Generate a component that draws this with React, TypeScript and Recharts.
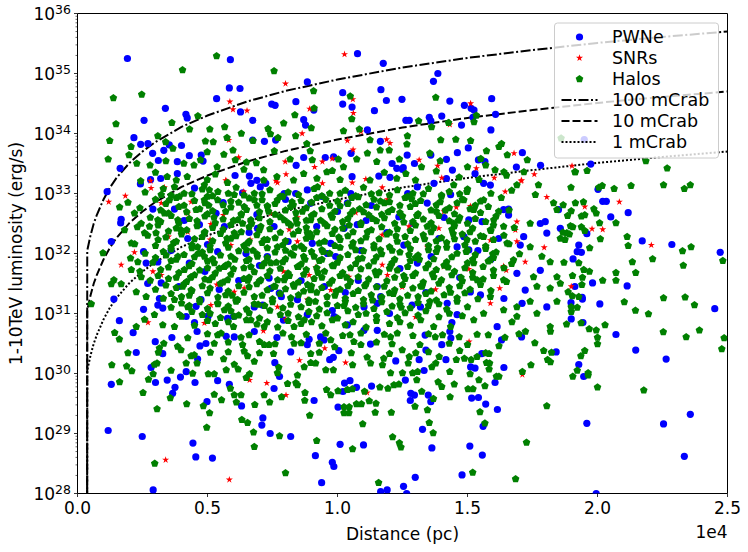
import { ComposedChart, Scatter, Line, XAxis, YAxis, ReferenceArea } from 'recharts';

type Pt = [number, number];

// distance in kpc, luminosity as log10(erg/s)
const pwneTop: Pt[] = [
  [1.92,35.25],[5.88,35.23],[10.77,35.33],[11.76,35.17],[5.84,34.76],[6.25,34.75],[8.84,34.86],[10.2,34.68],[11.67,34.73],[12.48,34.57],
  [5.35,34.58],[3.38,34.42],[7.47,34.49],[7.6,34.47],[8.4,34.53],[10.2,34.49],[10.56,34.44],[11.42,34.38],[11.88,34.55],[4.17,34.32],
  [4.22,34.26],[6.27,34.36],[6.74,34.22],[2.56,34.22],[8.7,34.23],[8.77,34.14],[9.09,34.39],[11.15,34.06],[2.17,33.93],[2.43,33.82],
  [2.71,33.83],[2.89,33.67],[3.32,33.72],[3.53,33.81],[4.0,33.8],[1.64,33.42],[3.11,33.55],[3.84,33.53],[4.3,33.63],[4.76,33.64],
  [4.83,33.54],[6.74,33.89],[7.19,33.87],[7.62,33.89],[8.41,33.47],[8.7,33.6],[9.53,33.6],[9.85,33.61],[10.52,33.67],[11.65,33.87],
  [12.1,33.5],[12.28,33.42],[12.53,33.43],[12.63,34.22],[6.06,33.3],[6.61,33.29],[2.81,33.23],[3.2,33.25],[3.84,33.33],[6.9,33.22],
  [10.56,33.28],[11.59,33.29],[12.02,33.27],
  [13.86,35.0],[13.69,34.87],[14.32,34.54],[14.88,34.47],[15.14,34.42],[15.25,34.39],[15.93,34.58],[16.08,34.32],[12.76,34.22],[13.53,34.27],
  [13.59,34.21],[14.01,34.29],[14.77,34.14],[15.21,34.27],[15.9,34.06],[15.03,33.76],[14.61,33.68],[14.19,33.57],[12.68,33.64],[12.96,33.5],
  [13.59,33.64],[14.42,33.39],[15.42,33.56],[15.67,33.53],[16.88,33.44],[17.11,33.68],[17.81,33.47],[19.74,33.49],[12.5,33.4],[14.19,33.25],
  [15.29,33.33],[19.49,33.9],
];

const pwneRight: Pt[] = [
  [20.02,33.07],[20.2,32.87],[20.34,32.87],[21.18,32.68],[20.51,32.61],[18.5,32.73],[18.57,32.42],[19.59,32.33],[21.72,32.21],[22.86,32.15],
  [24.72,32.02],[19.28,32.14],[19.22,32.03],[19.38,32.02],[19.06,31.91],[19.81,31.51],[21.14,31.46],[19.13,31.45],[19.41,31.27],[19.42,31.24],
  [18.98,31.18],[20.09,31.16],[18.99,30.91],[19.44,30.85],[24.51,31.08],[20.71,30.65],[21.47,30.39],[22.64,30.24],[19.28,30.15],[19.47,29.95],
  [19.59,29.17],[22.54,29.16],[23.57,29.32],[23.34,28.62],[19.95,28.0],
];

const pwneLow: Pt[] = [
  [2.14,30.68],[2.99,30.53],[3.63,30.6],[2.26,30.35],[3.28,30.33],[2.83,30.1],[1.3,29.82],[3.0,29.85],[3.45,29.89],[3.96,29.94],
  [4.18,30.03],[4.52,29.85],[3.75,29.77],[3.66,29.67],[4.62,30.24],[4.71,30.46],[4.94,30.5],[5.72,30.62],[6.03,30.61],[5.39,29.88],
  [5.84,29.82],[4.98,29.53],[6.31,29.46],[7.13,29.26],[7.09,29.14],[1.18,29.05],[2.49,28.95],[7.41,29.0],[8.2,28.95],[4.44,28.84],
  [4.55,28.61],[5.19,28.59],[2.91,28.06],[6.8,30.7],[7.67,30.6],[8.2,30.36],[7.59,30.18],[7.77,29.95],[7.56,29.75],[8.91,30.57],
  [8.84,30.48],[9.35,30.61],[9.48,30.56],[9.84,30.27],[9.7,30.23],[10.05,30.38],[9.1,29.55],[10.02,29.44],[10.1,28.82],[9.15,28.63],
  [9.8,28.52],[9.86,28.45],[9.39,28.18],[10.27,29.84],[10.48,29.88],[10.73,29.77],[10.21,29.7],[11.31,29.79],[11.0,28.81],[11.02,30.72],
  [11.53,30.72],[11.27,30.49],[12.24,30.21],[11.66,28.03],[11.91,28.06],
  [13.37,30.64],[14.32,30.7],[14.36,30.59],[14.01,30.48],[13.4,30.39],[13.14,30.23],[14.17,30.23],[15.55,30.33],[16.4,30.1],[15.12,30.11],
  [15.29,30.09],[13.33,30.05],[12.61,29.89],[16.06,29.85],[12.82,29.67],[12.96,29.64],[12.8,29.55],[13.49,29.64],[13.59,29.53],[15.16,29.59],
  [15.42,29.6],[15.7,29.49],[16.15,29.4],[16.31,30.56],[17.08,30.61],[18.41,30.36],[13.27,29.07],[15.6,29.12],[13.63,28.76],[15.09,28.79],
  [15.57,28.64],[12.99,28.27],[12.54,28.12],[14.79,28.31],[12.66,28.0],
];

const pwneCore: Pt[] = [
  [1.14,33.03],[1.3,32.2],[1.68,32.57],[1.66,32.51],[1.4,31.24],[1.61,30.88],[2.54,31.07],[2.54,32.03],[2.64,31.84],[2.9,32.74],
  [3.09,31.86],[2.7,31.5],[3.22,31.51],[3.28,31.09],[3.15,31.25],[2.42,33.16],[4.5,33.09],[3.73,32.74],[4.69,32.48],[4.24,32.25],
  [5.39,32.03],[5.33,32.67],[5.65,32.45],[4.75,31.23],[4.56,31.12],[4.5,30.85],[4.18,30.95],[5.03,30.96],[5.45,31.4],[6.35,33.01],
  [6.67,33.17],[7.03,33.11],[7.24,33.17],[6.92,32.42],[7.56,32.45],[7.95,33.0],[8.39,33.0],[8.84,33.06],[6.48,32.0],[7.37,31.59],
  [7.76,31.34],[7.44,31.42],[7.84,31.28],[6.8,31.11],[7.12,31.14],[8.84,30.98],[8.46,31.23],[7.92,30.89],[8.97,32.84],[9.03,32.17],
  [5.77,30.92],[4.3,31.84],[3.09,31.14],
  [9.74,32.17],[10.38,32.84],[10.51,33.0],[10.76,32.48],[10.25,32.42],[9.61,32.0],[9.93,31.95],[11.53,31.45],[11.66,31.28],[9.87,30.95],
  [10.38,30.81],[13.07,33.11],[13.45,32.84],[12.36,32.61],[12.55,32.14],[13.07,31.84],[12.87,31.14],[13.19,31.11],[14.22,31.17],[14.6,30.98],
  [13.71,33.17],[14.35,32.98],[14.86,32.28],[15.05,32.06],[15.11,31.36],[15.5,31.31],[15.62,33.17],[15.88,33.14],[15.56,32.53],[16.39,32.73],
  [16.58,32.64],[16.2,32.25],[17.16,32.28],[17.03,32.14],[17.8,32.5],[17.99,32.53],[18.05,32.34],[17.8,31.72],[16.9,31.67],[17.22,31.39],
  [17.1,31.17],[18.05,31.11],[16.14,30.78],[16.58,32.74],[15.05,32.56],[14.6,32.11],[11.53,31.17],[11.02,31.11],
  [3.6,32.05],[4.1,32.55],[4.9,31.7],[5.6,32.85],[6.2,31.55],[6.9,32.65],[7.3,31.95],[8.1,32.2],[8.6,31.55],[9.2,32.45],
  [9.5,31.45],[10.0,32.7],[10.9,32.05],[11.3,32.8],[11.9,32.35],[12.4,31.75],[12.9,32.5],[13.6,31.95],[14.1,32.6],[14.7,31.6],
  [15.4,32.05],[6.0,30.95],[7.0,31.8],[8.0,32.9],[9.8,31.05],[10.8,31.55],[12.0,31.0],[13.4,31.35],[14.4,30.85],[5.0,32.15],
  [3.9,31.45],[11.1,32.55],[9.4,32.95],[12.7,33.0],[13.9,32.25],[15.9,31.9],[16.4,31.25],[4.6,30.7],[6.6,32.35],[10.3,31.35],
];

const snrsList: Pt[] = [
  [10.27,35.32],[8.0,34.83],[5.86,34.53],[5.98,34.4],[6.52,34.38],[8.93,34.41],[10.59,34.57],[10.61,34.34],[8.64,34.0],[10.9,34.03],
  [10.38,33.88],[10.6,33.73],[11.89,33.9],[12.02,33.84],[6.2,33.6],[7.99,33.53],[9.12,33.44],[9.42,33.53],[9.8,33.58],[2.81,33.21],
  [5.7,33.22],[7.63,33.21],[8.02,33.32],[11.09,33.24],[5.82,33.89],
  [15.12,34.5],[13.14,33.56],[13.85,33.46],[15.34,33.42],[16.79,33.67],[17.57,33.32],[19.02,33.46],[14.01,33.26],[16.03,33.26],[17.08,33.22],
  [14.32,34.15],
  [19.51,32.78],[20.84,32.86],[19.79,32.41],[20.2,32.4],[22.07,32.14],[18.99,31.45],
  [3.39,28.56],[5.84,28.23],[6.62,29.89],[7.28,29.84],[8.02,29.64],[8.54,30.22],[9.51,30.42],[10.31,30.18],[7.15,30.71],[11.14,29.68],
  [15.06,30.53],[17.11,29.98],
  [1.2,32.86],[1.84,32.96],[2.83,33.09],[3.34,33.1],[3.22,32.84],[4.37,32.86],[4.24,32.67],[5.13,32.49],[5.61,32.64],[4.24,32.36],
  [3.5,32.28],[2.19,32.02],[1.68,31.81],[2.9,31.7],[3.22,31.64],[5.9,32.14],[5.1,32.23],[6.64,32.23],[5.36,31.48],[6.41,31.42],
  [6.03,31.36],[5.13,31.14],[4.88,30.84],[2.71,30.85],[7.69,31.11],[8.01,30.9],[7.92,31.7],[8.46,32.2],[8.14,32.4],[8.84,31.23],
  [8.91,31.64],[6.39,33.03],[5.74,33.21],[7.44,32.67],[7.69,33.18],[8.46,32.6],[9.16,31.77],
  [9.42,33.17],[10.57,33.18],[11.72,33.1],[11.92,32.9],[10.06,32.86],[10.7,32.68],[11.72,32.31],[12.75,32.45],[13.9,32.42],[14.09,32.7],
  [14.57,32.77],[15.11,32.79],[15.88,32.22],[13.45,32.11],[11.72,31.81],[11.92,31.64],[12.49,31.44],[13.77,31.4],[14.09,31.78],[15.05,31.74],
  [13.0,30.94],[16.45,33.03],[17.06,33.21],[18.05,32.94],[16.9,32.53],[16.84,32.39],[16.9,32.2],[17.95,32.1],[17.22,31.86],[16.39,31.79],
  [16.49,31.72],[16.24,31.42],[15.88,31.17],[9.74,31.39],[10.44,31.61],[9.23,31.75],
];

const halosTop: Pt[] = [
  [5.35,35.29],[4.04,35.06],[7.56,35.04],[1.38,34.59],[2.47,34.65],[9.08,34.71],[10.49,34.62],[9.1,34.42],[1.48,34.16],[3.63,34.18],
  [4.63,34.29],[4.31,34.07],[5.09,34.07],[5.66,34.11],[7.33,34.08],[7.93,34.17],[8.36,34.31],[8.39,33.96],[8.99,34.09],[10.55,34.24],
  [10.84,34.07],[1.24,33.88],[2.06,33.78],[3.09,33.96],[3.39,33.86],[4.92,33.87],[5.22,33.86],[5.75,33.93],[6.3,34.0],[6.75,33.88],
  [7.42,33.99],[7.71,33.93],[8.82,33.83],[10.23,34.04],[11.25,33.89],[11.64,33.72],[1.18,33.57],[1.98,33.64],[2.28,33.5],[2.79,33.47],
  [3.4,33.54],[3.67,33.75],[4.09,33.5],[4.48,33.47],[4.73,33.56],[4.99,33.69],[5.37,33.44],[5.63,33.65],[5.98,33.72],[6.07,33.56],
  [6.5,33.52],[6.88,33.51],[7.16,33.39],[7.57,33.71],[8.18,33.57],[8.95,33.71],[9.03,33.56],[9.59,33.36],[10.03,33.57],[10.23,33.44],
  [10.74,33.57],[11.15,33.67],[11.51,33.53],[11.99,33.72],[12.38,33.57],[2.43,33.21],[3.45,33.28],[3.8,33.22],[4.22,33.28],[4.99,33.23],
  [7.16,33.22],[7.67,33.28],[8.31,33.22],[8.7,33.33],[9.21,33.25],[10.1,33.23],[11.25,33.22],[12.28,33.25],
  [13.78,34.6],[15.34,34.3],[13.12,34.21],[13.62,34.11],[14.27,34.18],[15.25,34.19],[12.69,33.96],[12.67,33.82],[13.97,33.89],[14.55,33.9],
  [15.12,33.88],[16.21,33.78],[16.31,33.83],[15.73,33.71],[13.55,33.67],[16.53,33.64],[17.3,33.56],[13.23,33.44],[13.95,33.54],[15.51,33.58],
  [15.7,33.47],[15.0,33.44],[16.06,33.39],[16.4,33.36],[17.17,33.36],[18.6,33.92],[19.15,33.36],[21.86,33.54],[22.68,33.42],[12.63,33.33],
  [14.68,33.27],[15.44,33.23],[13.0,33.22],[3.0,33.35],[5.3,33.32],[6.4,33.4],[9.8,33.38],[11.8,33.35],[13.8,33.37],[16.5,33.3],
];

const halosRight: Pt[] = [
  [19.13,33.36],[19.6,33.38],[18.98,33.1],[20.05,33.1],[20.18,33.13],[20.64,33.08],[21.29,33.13],[22.54,33.14],[23.34,33.08],[23.57,33.14],
  [18.68,32.81],[19.15,32.84],[19.46,32.86],[18.99,32.71],[19.86,32.74],[19.95,32.67],[18.85,32.63],[19.38,32.62],[19.51,32.64],[20.08,32.51],
  [20.71,32.51],[18.96,32.46],[19.05,32.44],[19.38,32.44],[18.67,32.35],[18.82,32.34],[18.92,32.32],[19.51,32.38],[18.75,32.23],[18.57,32.25],
  [20.11,32.24],[21.14,32.28],[21.18,32.13],[19.7,32.09],[23.27,32.04],[23.6,32.11],[24.82,31.88],[18.71,31.85],[19.28,31.84],[21.34,31.86],
  [22.12,31.91],[23.3,31.8],[19.47,31.73],[19.69,31.7],[19.04,31.63],[19.42,31.6],[19.4,31.48],[20.2,31.55],[20.71,31.68],[20.71,31.55],
  [21.47,31.68],[18.57,31.5],[18.87,31.36],[19.03,31.29],[19.28,31.28],[21.03,31.19],[22.54,31.26],[23.37,31.27],[23.73,31.14],[18.99,31.11],
  [19.22,31.1],[18.99,31.03],[21.46,31.05],[21.96,30.99],[18.81,30.82],[19.37,30.84],[20.29,30.81],[19.68,30.74],[19.95,30.72],[20.0,30.6],
  [20.0,30.49],[22.53,30.69],[23.41,30.61],[23.92,30.72],[24.87,30.59],[24.78,30.41],[19.51,30.38],[19.36,30.29],[19.22,30.05],[19.05,29.95],
  [19.64,30.01],[19.64,29.97],[20.0,29.77],[21.78,29.72],
];

const halosLow: Pt[] = [
  [1.43,30.68],[1.61,30.57],[1.94,30.34],[1.32,30.14],[1.89,30.12],[2.09,30.04],[1.62,29.86],[2.96,30.15],[3.06,30.17],[2.91,29.99],
  [2.73,29.9],[3.11,30.35],[3.15,30.42],[3.32,30.5],[3.85,30.45],[3.98,30.39],[2.52,29.68],[3.57,29.59],[3.06,29.41],[3.6,30.05],
  [4.2,29.49],[4.24,30.59],[4.37,30.29],[4.49,30.31],[4.6,30.17],[4.18,30.17],[4.43,30.0],[4.84,29.46],[5.08,29.34],[4.97,29.1],
  [5.03,29.99],[5.26,29.99],[5.11,30.35],[5.26,30.5],[5.39,30.64],[5.52,30.67],[5.62,30.24],[5.72,30.06],[5.88,29.75],[6.03,30.15],
  [6.18,30.07],[6.29,30.6],[6.35,30.48],[6.41,30.37],[6.54,30.29],[6.62,29.99],[5.26,29.65],[5.54,29.56],[6.03,29.64],[6.29,29.64],
  [6.11,29.52],[6.32,29.23],[6.54,29.18],[6.77,29.02],[6.8,28.78],[6.82,29.48],[6.49,29.93],[6.8,30.2],[7.0,30.53],[7.18,30.48],
  [7.37,30.48],[7.18,29.64],[7.39,29.52],[7.54,30.33],[7.74,30.1],[7.69,30.01],[7.85,29.61],[7.77,28.96],[8.0,28.34],[8.08,29.83],
  [8.23,30.61],[8.33,30.5],[8.4,29.84],[8.46,29.81],[8.46,29.97],[8.72,30.11],[8.97,30.18],[8.75,29.68],[8.74,29.55],[8.93,29.3],
  [8.97,30.33],[9.2,28.88],[9.55,30.06],[9.84,30.06],[9.58,29.73],[9.74,29.64],[10.02,29.71],[10.38,29.73],[10.57,29.74],[10.25,29.44],
  [10.45,29.44],[10.44,29.34],[10.25,29.34],[10.58,28.74],[10.73,29.49],[10.92,29.49],[10.97,29.16],[11.04,29.7],[11.22,29.54],[11.48,29.5],
  [11.45,29.35],[11.63,29.77],[11.94,29.75],[12.17,29.81],[12.36,29.82],[12.07,29.35],[12.12,28.94],[11.58,28.18],[12.04,30.01],[11.73,30.14],
  [11.78,30.25],[11.27,30.17],[11.14,30.27],[10.58,30.14],[10.53,30.34],[10.63,30.53],[9.89,30.44],[9.55,30.67],[9.74,30.56],[10.48,30.64],
  [12.04,30.61],[12.3,30.67],[12.49,30.39],[9.16,30.17],[2.97,28.5],
  [12.38,28.84],[12.44,28.77],[13.53,29.18],[13.68,29.01],[12.98,29.45],[13.46,29.39],[13.69,29.58],[14.33,29.61],[15.02,29.74],[15.21,29.74],
  [15.48,29.36],[15.67,29.17],[15.67,29.79],[15.44,29.89],[14.49,29.82],[13.87,29.86],[14.01,29.78],[13.24,29.7],[12.5,30.01],[12.89,30.01],
  [13.08,30.03],[13.05,29.89],[14.32,30.03],[15.1,29.99],[14.57,30.23],[14.7,30.38],[14.88,30.25],[15.14,30.23],[15.37,30.28],[15.7,30.34],
  [15.83,30.33],[15.73,30.18],[15.85,30.17],[15.83,30.07],[16.11,29.95],[16.21,29.95],[16.21,30.46],[16.44,30.6],[16.98,30.66],[17.23,30.7],
  [17.59,30.51],[17.44,30.14],[17.11,30.03],[17.93,30.38],[18.23,30.35],[18.08,30.23],[18.19,30.19],[18.05,29.46],[17.27,28.85],[15.2,28.35],
  [16.85,28.24],[13.63,30.11],[13.78,30.17],[13.91,30.28],[12.72,30.17],[12.76,30.28],[13.01,30.34],[13.17,30.48],[13.76,30.61],[14.04,30.64],
  [14.68,30.61],[15.37,30.65],[18.19,30.7],
  [5.0,30.66],[6.6,30.64],[7.9,30.67],[8.8,30.65],[10.2,30.63],[10.9,30.67],[11.8,30.65],[12.9,30.63],[13.5,30.66],[15.8,30.64],
  [5.8,30.52],[7.6,30.49],[8.6,30.51],[9.3,30.5],[10.9,30.48],[11.5,30.52],[12.1,30.49],[14.3,30.5],[15.0,30.48],
  [5.8,30.36],[7.0,30.34],[9.3,30.35],[12.0,30.33],[13.5,30.36],
];

const halosMid: Pt[] = [
  [1.62,32.77],[1.94,32.85],[0.53,31.16],[0.98,32.01],[1.3,31.49],[1.68,31.49],[1.4,31.56],[2.07,32.17],[1.81,32.39],[2.04,31.92],
  [2.07,31.73],[2.32,31.86],[2.45,31.61],[2.26,31.36],[2.64,31.28],[2.58,30.9],[2.26,30.78],[2.96,30.98],[3.28,30.81],[3.73,31.23],
  [3.73,30.78],[2.19,32.67],[2.45,32.5],[2.58,32.34],[2.77,32.45],[3.02,32.34],[3.09,32.56],[3.34,32.67],[3.22,32.98],[3.54,32.89],
  [3.73,33.11],[3.92,32.95],[3.86,32.56],[3.98,32.39],[3.6,32.11],[3.86,31.95],[3.41,31.97],[4.11,31.73],[4.37,31.61],[4.05,31.45],
  [4.37,31.39],[4.24,31.11],[3.92,30.98],[4.62,32.11],[4.88,31.95],[4.56,32.73],[4.88,32.89],[5.07,33.06],[5.39,32.89],[4.88,32.34],
  [5.26,31.84],[5.65,31.78],[5.07,31.56],[5.77,31.56],[5.39,31.17],[5.65,31.06],[6.03,30.95],[6.16,31.23],[6.03,32.34],[6.16,32.56],
  [6.41,32.78],[6.03,32.98],[6.8,32.89],[6.67,32.56],[6.54,32.17],[6.92,31.95],[6.67,31.78],[7.05,31.56],[6.67,30.89],[7.18,30.78],
  [7.18,32.23],[7.31,32.78],[7.69,32.89],[8.2,32.78],[7.95,32.56],[7.69,32.11],[8.2,32.0],[7.44,31.84],[7.95,31.56],[8.46,31.78],
  [8.33,31.45],[8.97,31.39],[8.72,30.89],[8.33,30.78],[8.97,32.56],[8.84,32.34],[9.1,31.95],[9.23,33.11],[5.77,33.18],[4.88,33.14],
  [14.47,33.14],[14.98,33.03],[15.62,32.89],[16.2,32.7],[16.01,32.56],[16.9,33.14],[17.61,32.98],[17.73,33.14],[18.31,32.84],[18.44,32.73],
  [17.41,32.5],[16.39,32.45],[15.88,32.39],[15.62,32.28],[16.52,32.17],[17.41,32.11],[15.97,31.99],[15.88,31.89],[17.86,31.95],[18.18,31.86],
  [17.54,31.61],[18.44,31.61],[17.67,31.45],[18.18,31.42],[18.44,31.2],[17.41,31.2],[16.9,31.11],[16.39,31.06],[16.9,30.95],[17.67,31.0],
  [18.18,30.78],[16.71,30.86],[15.24,30.89],[15.62,31.0],[15.88,31.28],[15.37,31.56],[16.39,31.56],[16.77,31.89],[15.24,31.84],[14.98,32.23],
  [14.86,32.89],[15.24,32.73],[14.47,32.5],[14.35,30.78],
];

const halosCore: Pt[] = [
  [2.6,33.02],[3.3,33.08],[4.1,33.0],[4.8,33.07],[5.4,33.03],[6.1,33.1],[6.8,33.0],[7.4,33.06],[8.1,33.02],[9.1,33.08],[9.7,33.0],
  [10.3,33.05],[11.0,33.1],[11.6,33.01],[12.3,33.06],[12.9,33.0],[13.5,33.08],[14.3,33.03],[15.0,33.07],[15.9,33.0],[16.7,33.05],
  [3.0,32.9],[3.8,32.93],[4.5,32.88],[5.0,32.95],[5.9,32.87],[6.6,32.92],[7.1,32.89],[7.9,32.95],[8.6,32.88],[9.2,32.93],
  [10.0,32.87],[10.8,32.94],[11.4,32.9],[12.0,32.86],[12.6,32.93],[13.2,32.88],[14.0,32.95],[14.8,32.9],[15.5,32.87],[16.3,32.93],
  [2.4,32.76],[3.2,32.72],[3.9,32.78],[4.7,32.74],[5.2,32.71],[5.9,32.77],[6.5,32.73],[7.3,32.79],[8.0,32.72],[8.8,32.76],[9.4,32.74],
  [10.1,32.79],[10.6,32.71],[11.5,32.77],[12.1,32.73],[12.8,32.78],[13.6,32.72],[14.3,32.76],[15.1,32.74],[15.8,32.78],[16.6,32.72],
  [2.8,32.6],[3.6,32.63],[4.3,32.58],[4.9,32.62],[5.6,32.57],[6.3,32.64],[7.0,32.59],[7.8,32.61],[8.4,32.57],[9.0,32.63],
  [9.8,32.6],[10.4,32.58],[11.2,32.64],[11.8,32.59],[12.5,32.62],[13.3,32.57],[13.9,32.63],[14.7,32.6],[15.3,32.58],[16.1,32.62],
  [2.3,32.44],[3.1,32.47],[3.8,32.42],[4.6,32.46],[5.2,32.43],[5.9,32.48],[6.6,32.44],[7.4,32.41],[8.2,32.47],[8.8,32.43],[9.6,32.46],
  [10.2,32.42],[10.9,32.48],[11.7,32.44],[12.3,32.41],[13.0,32.47],[13.7,32.43],[14.5,32.46],[15.2,32.42],[16.0,32.47],[16.8,32.43],
  [2.7,32.3],[3.4,32.27],[4.0,32.32],[4.8,32.28],[5.5,32.33],[6.1,32.29],[6.9,32.31],[7.6,32.26],[8.3,32.32],[9.0,32.28],
  [9.8,32.33],[10.4,32.29],[11.1,32.27],[11.9,32.32],[12.6,32.28],[13.3,32.31],[14.0,32.26],[14.8,32.32],[15.5,32.29],[16.4,32.3],
  [2.2,32.16],[3.0,32.13],[3.7,32.18],[4.4,32.14],[5.1,32.12],[5.7,32.17],[6.4,32.13],[7.1,32.18],[7.9,32.14],[8.6,32.12],[9.3,32.17],
  [9.9,32.13],[10.6,32.18],[11.4,32.14],[12.0,32.11],[12.7,32.16],[13.5,32.13],[14.2,32.18],[14.9,32.14],[15.7,32.12],[16.6,32.16],
  [2.6,32.0],[3.3,32.03],[4.1,31.98],[4.8,32.02],[5.5,31.97],[6.2,32.04],[6.9,31.99],[7.6,32.02],[8.3,31.97],[9.0,32.03],[9.7,32.0],
  [10.4,31.98],[11.0,32.04],[11.7,31.99],[12.4,32.02],[13.1,31.97],[13.8,32.03],[14.6,32.0],[15.3,31.98],[16.1,32.02],[17.0,31.99],
  [2.9,31.85],[3.6,31.88],[4.4,31.83],[5.0,31.87],[5.8,31.82],[6.5,31.88],[7.2,31.84],[7.9,31.86],[8.6,31.82],[9.3,31.88],
  [10.0,31.85],[10.7,31.83],[11.4,31.87],[12.1,31.84],[12.8,31.88],[13.5,31.82],[14.2,31.86],[15.0,31.84],[15.8,31.87],[16.7,31.83],
  [2.4,31.7],[3.2,31.73],[3.9,31.68],[4.7,31.72],[5.3,31.67],[6.0,31.74],[6.8,31.69],[7.4,31.71],[8.1,31.67],[8.8,31.73],
  [9.5,31.7],[10.2,31.68],[10.9,31.74],[11.6,31.69],[12.3,31.72],[13.0,31.67],[13.8,31.73],[14.5,31.7],[15.2,31.68],[16.0,31.72],
  [2.8,31.55],[3.5,31.58],[4.2,31.53],[4.9,31.57],[5.6,31.52],[6.4,31.58],[7.0,31.54],[7.7,31.56],[8.5,31.52],[9.1,31.58],
  [9.8,31.55],[10.5,31.53],[11.2,31.57],[11.9,31.54],[12.6,31.58],[13.3,31.52],[14.0,31.56],[14.8,31.54],[15.6,31.57],[16.5,31.53],
  [3.0,31.4],[3.8,31.43],[4.4,31.38],[5.1,31.42],[5.8,31.37],[6.6,31.44],[7.3,31.39],[8.0,31.41],[8.7,31.37],[9.4,31.43],
  [10.1,31.4],[10.8,31.38],[11.5,31.44],[12.2,31.39],[12.9,31.42],[13.6,31.37],[14.3,31.43],[15.1,31.4],[15.9,31.38],
  [3.3,31.25],[4.0,31.28],[4.7,31.23],[5.4,31.27],[6.1,31.22],[6.8,31.28],[7.5,31.24],[8.2,31.26],[8.9,31.22],[9.6,31.28],
  [10.3,31.25],[11.0,31.23],[11.7,31.27],[12.4,31.24],[13.1,31.28],[13.8,31.22],[14.6,31.26],[15.4,31.24],
  [3.6,31.1],[4.3,31.13],[5.0,31.08],[5.8,31.12],[6.5,31.07],[7.2,31.13],[7.9,31.09],[8.6,31.11],[9.3,31.07],[10.0,31.13],
  [10.7,31.1],[11.4,31.08],[12.1,31.12],[12.8,31.09],[13.5,31.13],[14.2,31.07],[15.0,31.11],
  [4.0,30.95],[4.8,30.98],[5.5,30.93],[6.2,30.97],[7.0,30.92],[7.8,30.98],[8.5,30.94],[9.2,30.96],[10.0,30.92],[10.8,30.98],
  [11.5,30.95],[12.3,30.93],[13.1,30.97],[13.9,30.94],[14.8,30.96],
  [4.5,30.8],[5.3,30.83],[6.0,30.78],[6.9,30.82],[7.7,30.77],[8.6,30.83],[9.4,30.79],[10.3,30.81],[11.1,30.77],[12.0,30.83],
  [12.8,30.8],[13.7,30.78],
];

const halosCoreFill: Pt[] = [
  [3.6,32.97],[4.4,32.99],[5.2,32.96],[5.8,33.0],[6.4,32.97],[7.1,32.99],[7.8,32.95],[8.5,32.98],[9.4,32.96],[10.1,33.0],
  [10.7,32.96],[11.3,32.99],[12.0,32.97],[12.7,32.95],[13.3,32.99],[14.0,32.97],[14.7,32.99],
  [3.4,32.83],[4.1,32.8],[4.9,32.84],[5.6,32.81],[6.2,32.85],[6.9,32.8],[7.6,32.83],[8.3,32.81],[9.0,32.85],[9.7,32.8],
  [10.4,32.83],[11.1,32.81],[11.8,32.84],[12.4,32.8],[13.0,32.83],[13.8,32.81],[14.6,32.84],[15.3,32.8],
  [3.5,32.67],[4.2,32.69],[5.0,32.66],[5.7,32.7],[6.3,32.66],[7.0,32.69],[7.6,32.65],[8.4,32.68],[9.1,32.66],[9.9,32.7],
  [10.5,32.66],[11.0,32.69],[11.7,32.65],[12.4,32.68],[13.1,32.66],[13.8,32.7],[14.5,32.66],[15.5,32.68],
  [3.2,32.53],[3.9,32.5],[4.6,32.54],[5.3,32.51],[6.0,32.55],[6.7,32.5],[7.4,32.53],[8.1,32.51],[8.8,32.55],[9.5,32.5],
  [10.2,32.53],[10.9,32.51],[11.5,32.54],[12.2,32.5],[12.9,32.53],[13.6,32.51],[14.3,32.54],[15.0,32.5],[15.7,32.53],
  [3.5,32.37],[4.2,32.39],[4.9,32.36],[5.6,32.4],[6.3,32.36],[7.0,32.39],[7.8,32.35],[8.5,32.38],[9.2,32.36],[9.9,32.4],
  [10.6,32.36],[11.3,32.39],[12.0,32.35],[12.8,32.38],[13.6,32.36],[14.4,32.4],[15.1,32.36],[15.9,32.38],
  [3.1,32.23],[3.8,32.2],[4.5,32.24],[5.2,32.21],[5.9,32.25],[6.6,32.2],[7.3,32.23],[8.0,32.21],[8.8,32.25],[9.5,32.2],
  [10.1,32.23],[10.9,32.21],[11.6,32.24],[12.3,32.2],[13.0,32.23],[13.8,32.21],[14.5,32.24],[15.3,32.2],[16.0,32.23],
  [3.6,32.07],[4.4,32.09],[5.1,32.06],[5.8,32.1],[6.5,32.06],[7.3,32.09],[8.0,32.05],[8.7,32.08],[9.4,32.06],[10.1,32.1],
  [10.7,32.06],[11.4,32.09],[12.1,32.05],[12.8,32.08],[13.5,32.06],[14.2,32.1],[15.0,32.06],[15.7,32.08],
  [3.0,31.93],[3.8,31.9],[4.5,31.94],[5.2,31.91],[5.9,31.95],[6.6,31.9],[7.3,31.93],[8.0,31.91],[8.7,31.95],[9.4,31.9],
  [10.1,31.93],[10.8,31.91],[11.5,31.94],[12.2,31.9],[13.0,31.93],[13.7,31.91],[14.4,31.94],[15.2,31.9],[16.0,31.93],
  [3.5,31.77],[4.3,31.79],[5.0,31.76],[5.7,31.8],[6.4,31.76],[7.1,31.79],[7.8,31.75],[8.5,31.78],[9.2,31.76],[9.8,31.8],
  [10.5,31.76],[11.2,31.79],[12.0,31.75],[12.7,31.78],[13.4,31.76],[14.1,31.8],[14.9,31.76],[15.6,31.78],[16.4,31.76],
  [3.1,31.63],[3.8,31.6],[4.5,31.64],[5.2,31.61],[5.9,31.65],[6.6,31.6],[7.3,31.63],[8.0,31.61],[8.7,31.65],[9.4,31.6],
  [10.1,31.63],[10.8,31.61],[11.5,31.64],[12.2,31.6],[12.9,31.63],[13.7,31.61],[14.4,31.64],[15.2,31.6],[16.0,31.63],
  [3.4,31.47],[4.1,31.49],[4.8,31.46],[5.5,31.5],[6.2,31.46],[6.9,31.49],[7.6,31.45],[8.3,31.48],[9.0,31.46],[9.7,31.5],
  [10.4,31.46],[11.1,31.49],[11.8,31.45],[12.5,31.48],[13.2,31.46],[13.9,31.5],[14.7,31.46],[15.5,31.48],
  [3.6,31.33],[4.3,31.3],[5.0,31.34],[5.7,31.31],[6.4,31.35],[7.1,31.3],[7.8,31.33],[8.5,31.31],[9.2,31.35],[9.9,31.3],
  [10.6,31.33],[11.3,31.31],[12.0,31.34],[12.7,31.3],[13.4,31.33],[14.1,31.31],[14.9,31.34],
  [4.0,31.17],[4.7,31.19],[5.4,31.16],[6.1,31.2],[6.8,31.16],[7.5,31.19],[8.2,31.15],[8.9,31.18],[9.6,31.16],[10.3,31.2],
  [11.0,31.16],[11.7,31.19],[12.4,31.15],[13.1,31.18],[13.9,31.16],[14.6,31.2],
  [4.4,31.03],[5.1,31.0],[5.9,31.04],[6.6,31.01],[7.4,31.05],[8.1,31.0],[8.9,31.03],[9.6,31.01],[10.4,31.04],[11.1,31.0],
  [11.9,31.03],[12.6,31.01],[13.4,31.04],[14.3,31.0],
  [5.0,30.88],[5.8,30.86],[6.5,30.89],[7.3,30.86],[8.1,30.88],[9.0,30.86],[9.8,30.89],[10.6,30.86],[11.5,30.88],[12.4,30.86],
  [13.2,30.89],
];

const halosDense: Pt[] = [
  [8.25,32.86],[9.55,32.9],[10.55,32.93],[11.65,32.87],[12.85,32.91],[13.95,32.86],[8.65,32.7],[9.75,32.64],[10.85,32.74],[11.95,32.69],
  [13.05,32.63],[14.15,32.72],[8.45,32.5],[9.35,32.55],[10.45,32.47],[11.35,32.58],[12.55,32.52],[13.45,32.45],[14.65,32.55],[8.95,32.33],
  [10.05,32.27],[11.15,32.36],[12.25,32.29],[13.35,32.24],[14.45,32.33],[8.35,32.1],[9.45,32.03],[10.55,32.12],[11.65,32.06],[12.75,31.98],
  [13.85,32.09],[14.95,32.03],[8.75,31.9],[9.85,31.79],[10.95,31.92],[12.05,31.8],[13.15,31.9],[14.25,31.77],[8.15,31.63],[9.25,31.68],
  [10.35,31.6],[11.45,31.7],[12.55,31.63],[13.65,31.66],[14.75,31.6],[8.85,31.48],[9.95,31.37],[11.05,31.46],[12.15,31.33],[13.25,31.45],
  [14.35,31.35],[9.15,31.2],[10.25,31.13],[11.35,31.22],[12.45,31.1],[13.55,31.2],[5.25,32.6],[6.35,32.5],[7.35,32.7],[5.75,32.25],
  [6.75,32.05],[7.65,31.85],[5.45,31.75],[6.55,31.55],[7.55,31.45],[5.95,31.3],[6.95,31.15],[4.65,32.0],[4.35,31.6],[5.05,32.8],
  [7.05,32.45],[6.05,31.9],
];

// sensitivity curves (first entry is the zero-distance point, clipped like a log axis)
const curveDist = [0, 0.375, 0.5, 0.625, 0.75, 1.0, 1.25, 1.5, 2.0, 2.5, 3.0, 4.0, 5.0, 6.5, 8.0, 10, 12.5, 15, 17.5, 20, 22.5, 25];
const crab100 = [-300, 32.05, 32.3, 32.5, 32.65, 32.9, 33.1, 33.26, 33.51, 33.7, 33.86, 34.11, 34.3, 34.53, 34.71, 34.9, 35.1, 35.26, 35.39, 35.51, 35.61, 35.7];
const crab10 = [-300, 31.05, 31.3, 31.5, 31.65, 31.9, 32.1, 32.26, 32.51, 32.7, 32.86, 33.11, 33.3, 33.53, 33.71, 33.9, 34.1, 34.26, 34.39, 34.51, 34.61, 34.7];
const crab1 = [-300, 30.05, 30.3, 30.5, 30.65, 30.9, 31.1, 31.26, 31.51, 31.7, 31.86, 32.11, 32.3, 32.53, 32.71, 32.9, 33.1, 33.26, 33.39, 33.51, 33.61, 33.7];

const xTicks = [0, 5, 10, 15, 20, 25];
const decades = [28, 29, 30, 31, 32, 33, 34, 35, 36];
const minorSteps = [0.301, 0.477, 0.602, 0.699, 0.778, 0.845, 0.903, 0.954];
const yTicks = decades.flatMap((n) => (n < 36 ? [n, ...minorSteps.map((m) => n + m)] : [n]));

const FONT = '"DejaVu Sans", sans-serif';
const BLUE = '#0000ff';
const RED = '#ff0000';
const GREEN = '#008000';

const rows = (pts: Pt[]) => pts.map(([d, l]) => ({ d, l }));
const curve = (vals: number[]) => curveDist.map((d, i) => ({ d, l: vals[i] }));

const pwne = rows([...pwneTop, ...pwneRight, ...pwneLow, ...pwneCore]);
const snrs = rows(snrsList);
const halos = rows([...halosTop, ...halosRight, ...halosLow, ...halosMid, ...halosCore, ...halosCoreFill, ...halosDense]);

const DASHDOT = '10 2.5 2 2.5';
const DASHED = '8 3';
const DOTTED = '2 2';

const R_DOT = 3.6;
const R_STAR = 3.7;
const R_PENT = 4.0;

function pentagon(cx: number, cy: number, r: number) {
  const pts = [];
  for (let k = 0; k < 5; k++) {
    const a = (-90 + k * 72) * Math.PI / 180;
    pts.push(`${cx + r * Math.cos(a)},${cy + r * Math.sin(a)}`);
  }
  return pts.join(' ');
}

function star(cx: number, cy: number, r: number) {
  const pts = [];
  for (let k = 0; k < 10; k++) {
    const rr = k % 2 === 0 ? r : r * 0.382;
    const a = (-90 + k * 36) * Math.PI / 180;
    pts.push(`${cx + rr * Math.cos(a)},${cy + rr * Math.sin(a)}`);
  }
  return pts.join(' ');
}

const Dot = (p: any) => <circle cx={p.cx} cy={p.cy} r={R_DOT} fill={BLUE} />;
const Star = (p: any) => <polygon points={star(p.cx, p.cy, R_STAR)} fill={RED} />;
const Pent = (p: any) => <polygon points={pentagon(p.cx, p.cy, R_PENT)} fill={GREEN} />;

const XTick = ({ x, y, payload }: any) => (
  <g>
    <line x1={x} x2={x} y1={y} y2={y + 3.5} stroke="#000" strokeWidth={0.8} />
    <text x={x} y={y + 20} textAnchor="middle" fontSize={17} fontFamily={FONT} fill="#000">
      {(payload.value / 10).toFixed(1)}
    </text>
  </g>
);

const YTick = ({ x, y, payload }: any) => {
  const v = payload.value;
  const major = Math.abs(v - Math.round(v)) < 1e-6;
  return (
    <g>
      <line x1={x} x2={x - (major ? 3.5 : 2)} y1={y} y2={y} stroke="#000" strokeWidth={major ? 0.8 : 0.6} />
      {major && (
        <text x={x - 6.5} y={y + 6} textAnchor="end" fontSize={17} fontFamily={FONT} fill="#000">
          10<tspan dy={-6} fontSize={12.5}>{Math.round(v)}</tspan>
        </text>
      )}
    </g>
  );
};

const legendRows = [
  { label: 'PWNe', kind: 'dot' },
  { label: 'SNRs', kind: 'star' },
  { label: 'Halos', kind: 'pent' },
  { label: '100 mCrab', kind: DASHDOT },
  { label: '10 mCrab', kind: DASHED },
  { label: '1 mCrab', kind: DOTTED },
];

export default function App() {
  return (
    <div style={{ position: 'absolute', left: 0, top: 0, width: 748, height: 552, background: '#fff' }}>
      <ComposedChart width={748} height={552} margin={{ top: 13.5, right: 20.5, bottom: 28.5, left: 17.5 }}>
        <XAxis
          type="number"
          dataKey="d"
          domain={[0, 25]}
          ticks={xTicks}
          interval={0}
          allowDataOverflow
          height={30}
          axisLine={false}
          tickLine={false}
          tickSize={0}
          tickMargin={0}
          tick={<XTick />}
        />
        <YAxis
          type="number"
          dataKey="l"
          domain={[28, 36]}
          ticks={yTicks}
          interval={0}
          allowDataOverflow
          width={60}
          axisLine={false}
          tickLine={false}
          tickSize={0}
          tickMargin={0}
          tick={<YTick />}
        />
        <Scatter data={pwne} shape={Dot} isAnimationActive={false} />
        <Scatter data={snrs} shape={Star} isAnimationActive={false} />
        <Scatter data={halos} shape={Pent} isAnimationActive={false} />
        <Line data={curve(crab100)} dataKey="l" type="linear" stroke="#000" strokeWidth={2} strokeDasharray={DASHDOT} dot={false} activeDot={false} isAnimationActive={false} />
        <Line data={curve(crab10)} dataKey="l" type="linear" stroke="#000" strokeWidth={2} strokeDasharray={DASHED} dot={false} activeDot={false} isAnimationActive={false} />
        <Line data={curve(crab1)} dataKey="l" type="linear" stroke="#000" strokeWidth={2} strokeDasharray={DOTTED} dot={false} activeDot={false} isAnimationActive={false} />
        <ReferenceArea x1={0} x2={25} y1={28} y2={36} fill="none" stroke="#000" strokeWidth={1} />
      </ComposedChart>
      <svg width={748} height={552} style={{ position: 'absolute', left: 0, top: 0, pointerEvents: 'none' }} fontFamily={FONT}>
        <text x={402.5} y={540} textAnchor="middle" fontSize={17}>Distance (pc)</text>
        <text x={727.5} y={538} textAnchor="end" fontSize={17}>1e4</text>
        <text transform="translate(22,253.5) rotate(-90)" textAnchor="middle" fontSize={17}>1-10TeV luminosity (erg/s)</text>
        <g transform="translate(554.5,23)">
          <rect x={0} y={0} width={164} height={135} rx={3} fill="#fff" fillOpacity={0.8} stroke="#cccccc" strokeWidth={1} />
          {legendRows.map((r, i) => {
            const cy = 14 + i * 21;
            let marker;
            if (r.kind === 'dot') marker = <circle cx={25} cy={cy} r={R_DOT} fill={BLUE} />;
            else if (r.kind === 'star') marker = <polygon points={star(25, cy, R_STAR)} fill={RED} />;
            else if (r.kind === 'pent') marker = <polygon points={pentagon(25, cy, R_PENT)} fill={GREEN} />;
            else marker = <line x1={7} x2={43} y1={cy} y2={cy} stroke="#000" strokeWidth={2} strokeDasharray={r.kind} />;
            return (
              <g key={r.label}>
                {marker}
                <text x={57.5} y={cy + 6.3} fontSize={17.5} fill="#000">{r.label}</text>
              </g>
            );
          })}
        </g>
      </svg>
    </div>
  );
}
